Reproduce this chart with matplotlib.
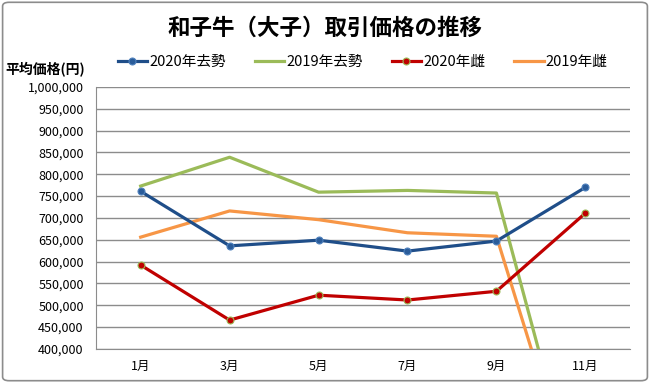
import matplotlib
matplotlib.use('Agg')
import matplotlib.pyplot as plt
from matplotlib.patches import FancyBboxPatch
from matplotlib.ticker import FuncFormatter

plt.rcParams['font.family'] = ['Noto Sans CJK JP', 'DejaVu Sans']

months = ['1月', '3月', '5月', '7月', '9月', '11月']
steer_2020 = [761000, 636000, 649000, 624000, 647000, 770000]
steer_2019 = [773000, 839000, 759000, 763000, 757000, 0]
heifer_2020 = [592000, 466000, 523000, 512000, 532000, 711000]
heifer_2019 = [656000, 716000, 696000, 666000, 658000, 0]

fig = plt.figure(figsize=(6.5, 3.83), dpi=100)
fig.patches.append(FancyBboxPatch((0.004, 0.006), 0.992, 0.988,
                                  boxstyle='round,pad=0,rounding_size=0.01',
                                  transform=fig.transFigure, fill=False,
                                  edgecolor='#8c8c8c', linewidth=1.2))
ax = fig.add_axes([0.148, 0.089, 0.821, 0.684])

x = range(len(months))
ax.plot(x, steer_2020, color='#1f4e89', lw=2.3, marker='o', ms=5,
        markerfacecolor='#2a5c9a', markeredgecolor='#4f81bd', mew=0.8,
        label='2020年去勢', zorder=4)
ax.plot(x, steer_2019, color='#9bbb59', lw=2.3, label='2019年去勢', zorder=3)
ax.plot(x, heifer_2020, color='#c00000', lw=2.3, marker='o', ms=5,
        markerfacecolor='#c00000', markeredgecolor='#9bbb59', mew=0.8,
        label='2020年雌', zorder=4)
ax.plot(x, heifer_2019, color='#f79646', lw=2.3, label='2019年雌', zorder=3)

ax.set_xlim(-0.5, 5.5)
ax.set_ylim(400000, 1000000)
ax.set_yticks(range(400000, 1000001, 50000))
ax.yaxis.set_major_formatter(FuncFormatter(lambda v, p: f'{int(v):,}'))
ax.set_xticks(list(x))
ax.set_xticklabels(months)
ax.tick_params(axis='y', labelsize=9, length=0, pad=9)
ax.tick_params(axis='x', labelsize=9, length=0, pad=8)
ax.grid(axis='y', color='#8c8c8c', lw=1)
ax.set_axisbelow(True)
for s in ['top', 'right']:
    ax.spines[s].set_visible(False)
for s in ['left', 'bottom']:
    ax.spines[s].set_color('#8c8c8c')

fig.text(0.5, 0.925, '和子牛（大子）取引価格の推移', ha='center', va='center',
         fontsize=16.2, fontweight='bold')
fig.text(0.008, 0.818, '平均価格(円)', ha='left', va='center', fontsize=10,
         fontweight='bold')
fig.legend(loc='center', bbox_to_anchor=(0.558, 0.838), ncol=4, frameon=False,
           fontsize=10.5, handlelength=2.0, handletextpad=0.15,
           columnspacing=2.0)

fig.savefig('out.png', dpi=100)
